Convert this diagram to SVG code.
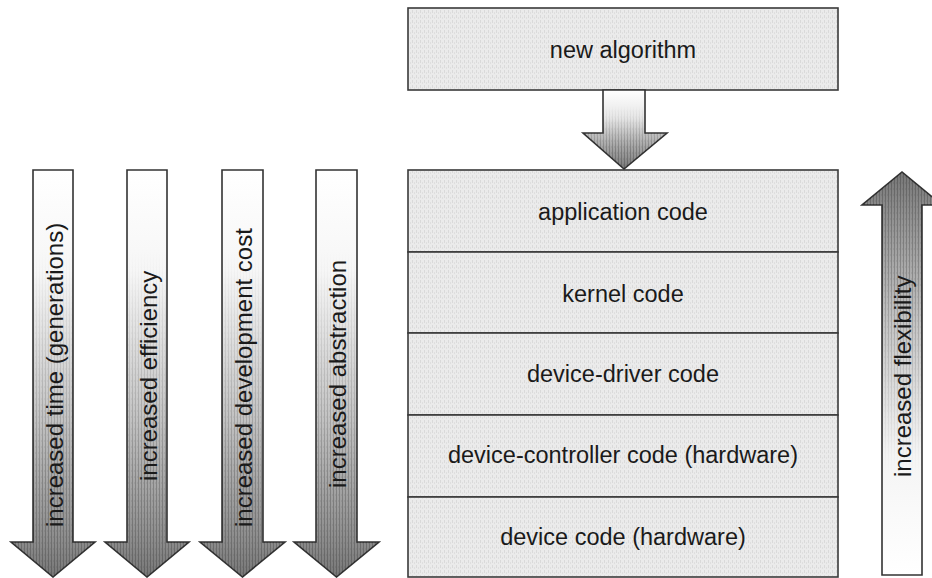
<svg xmlns="http://www.w3.org/2000/svg" width="932" height="578" viewBox="0 0 932 578">
<defs>
<pattern id="stripes" width="3" height="6" patternUnits="userSpaceOnUse">
<rect x="0" y="0" width="1" height="6" fill="#000" opacity="0.2"/>
<rect x="2" y="2" width="1" height="2" fill="#000" opacity="0.06"/>
</pattern>
<pattern id="stipple" width="4" height="5" patternUnits="userSpaceOnUse">
<rect x="0" y="0" width="1" height="3" fill="#000" opacity="0.07"/>
<rect x="2" y="2" width="1" height="2" fill="#000" opacity="0.05"/>
</pattern>
<linearGradient id="gDown" x1="0" y1="0" x2="0" y2="1">
<stop offset="0" stop-color="#ffffff"/>
<stop offset="0.25" stop-color="#f6f6f6"/>
<stop offset="0.6" stop-color="#c4c4c4"/>
<stop offset="0.9" stop-color="#8e8e8e"/>
<stop offset="1" stop-color="#777"/>
</linearGradient>
<linearGradient id="gUp" x1="0" y1="1" x2="0" y2="0">
<stop offset="0" stop-color="#ffffff"/>
<stop offset="0.3" stop-color="#f4f4f4"/>
<stop offset="0.65" stop-color="#c0c0c0"/>
<stop offset="0.9" stop-color="#8e8e8e"/>
<stop offset="1" stop-color="#777"/>
</linearGradient>
<linearGradient id="gMid" x1="0" y1="0" x2="0" y2="1">
<stop offset="0" stop-color="#ffffff"/>
<stop offset="0.35" stop-color="#e6e6e6"/>
<stop offset="0.7" stop-color="#a8a8a8"/>
<stop offset="1" stop-color="#7a7a7a"/>
</linearGradient>
<linearGradient id="mDownG" x1="0" y1="0" x2="0" y2="1">
<stop offset="0" stop-color="#000"/>
<stop offset="0.2" stop-color="#000"/>
<stop offset="0.75" stop-color="#fff"/>
<stop offset="1" stop-color="#fff"/>
</linearGradient>
<linearGradient id="mUpG" x1="0" y1="1" x2="0" y2="0">
<stop offset="0" stop-color="#000"/>
<stop offset="0.25" stop-color="#000"/>
<stop offset="0.75" stop-color="#fff"/>
<stop offset="1" stop-color="#fff"/>
</linearGradient>
<mask id="mDown" maskContentUnits="objectBoundingBox">
<rect x="0" y="0" width="1" height="1" fill="url(#mDownG)"/>
</mask>
<mask id="mUp" maskContentUnits="objectBoundingBox">
<rect x="0" y="0" width="1" height="1" fill="url(#mUpG)"/>
</mask>
</defs>
<style>
.box{fill:#ebebeb;stroke:#3a3a3a;stroke-width:1.6}
.tex{fill:url(#stipple);stroke:none}
.arr{stroke:#333;stroke-width:1.6;stroke-linejoin:miter}
.str{fill:url(#stripes);stroke:none}
.lbl{font-family:"Liberation Sans",Arial,sans-serif;font-size:23.5px;fill:#1a1a1a;text-anchor:middle}
.vl{font-family:"Liberation Sans",Arial,sans-serif;font-size:24px;fill:#1a1a1a;text-anchor:start}
</style>

<g id="new-algorithm">
<rect class="box" x="408" y="8" width="430" height="82"/>
<rect class="tex" x="409" y="9" width="428" height="80"/>
<text class="lbl" x="623" y="58">new algorithm</text>
</g>

<g id="stack">
<g id="application-code">
<rect class="box" x="408" y="170" width="430" height="82"/>
<rect class="tex" x="409" y="171" width="428" height="80"/>
<text class="lbl" x="623" y="220">application code</text>
</g>
<g id="kernel-code">
<rect class="box" x="408" y="252" width="430" height="81"/>
<rect class="tex" x="409" y="253" width="428" height="79"/>
<text class="lbl" x="623" y="302">kernel code</text>
</g>
<g id="device-driver-code">
<rect class="box" x="408" y="333" width="430" height="82"/>
<rect class="tex" x="409" y="334" width="428" height="80"/>
<text class="lbl" x="623" y="382">device-driver code</text>
</g>
<g id="device-controller-code">
<rect class="box" x="408" y="415" width="430" height="82"/>
<rect class="tex" x="409" y="416" width="428" height="80"/>
<text class="lbl" x="623" y="463">device-controller code (hardware)</text>
</g>
<g id="device-code">
<rect class="box" x="408" y="497" width="430" height="80"/>
<rect class="tex" x="409" y="498" width="428" height="78"/>
<text class="lbl" x="623" y="545">device code (hardware)</text>
</g>
</g>

<g id="connectors">
<path class="arr" fill="url(#gMid)" d="M603,90 H645 V133 H667 L624,169 L583,133 H603 Z"/>
<path class="str" mask="url(#mDown)" d="M603,90 H645 V133 H667 L624,169 L583,133 H603 Z"/>
</g>

<g id="arrow-time">
<path class="arr" fill="url(#gDown)" d="M33,170 H73 V542 H95 L53,577 L11,542 H33 Z"/>
<path class="str" mask="url(#mDown)" d="M33,170 H73 V542 H95 L53,577 L11,542 H33 Z"/>
<text class="vl" transform="translate(63,527) rotate(-90)">increased time (generations)</text>
</g>
<g id="arrow-efficiency">
<path class="arr" fill="url(#gDown)" d="M127,170 H167 V542 H189 L147,577 L105,542 H127 Z"/>
<path class="str" mask="url(#mDown)" d="M127,170 H167 V542 H189 L147,577 L105,542 H127 Z"/>
<text class="vl" transform="translate(156.5,481) rotate(-90)">increased efficiency</text>
</g>
<g id="arrow-development-cost">
<path class="arr" fill="url(#gDown)" d="M222,170 H263 V542 H285 L242.5,577 L200,542 H222 Z"/>
<path class="str" mask="url(#mDown)" d="M222,170 H263 V542 H285 L242.5,577 L200,542 H222 Z"/>
<text class="vl" transform="translate(252,527) rotate(-90)">increased development cost</text>
</g>
<g id="arrow-abstraction">
<path class="arr" fill="url(#gDown)" d="M316,170 H357 V542 H379 L336.5,577 L294,542 H316 Z"/>
<path class="str" mask="url(#mDown)" d="M316,170 H357 V542 H379 L336.5,577 L294,542 H316 Z"/>
<text class="vl" transform="translate(346,488) rotate(-90)">increased abstraction</text>
</g>
<g id="arrow-flexibility">
<path class="arr" fill="url(#gUp)" d="M882,575 V205 H862 L902,172 L942,205 H922 V575 Z"/>
<path class="str" mask="url(#mUp)" d="M882,575 V205 H862 L902,172 L942,205 H922 V575 Z"/>
<text class="vl" transform="translate(911,477) rotate(-90)">increased flexibility</text>
</g>
</svg>
